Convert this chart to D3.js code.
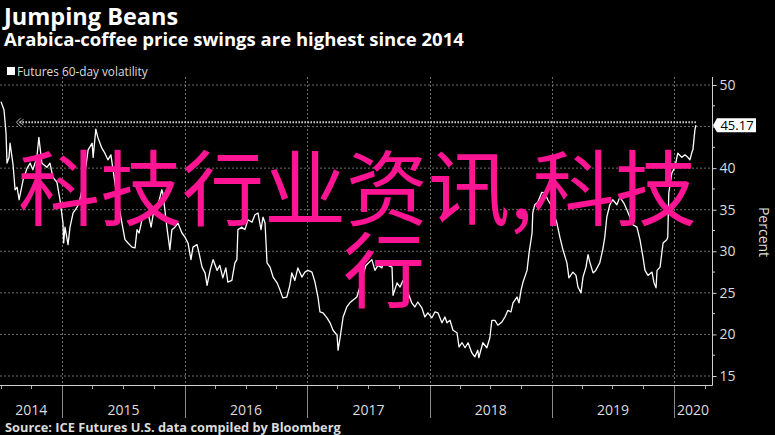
<!DOCTYPE html>
<html><head><meta charset="utf-8">
<script src="https://cdn.jsdelivr.net/npm/d3@7"></script>
<style>
html,body{margin:0;padding:0;background:#000;}
svg{display:block;}
</style></head>
<body>
<svg id="chart" width="775" height="435"></svg>
<script>
const titleText = "Jumping Beans";
const subtitleText = "Arabica-coffee price swings are highest since 2014";
const legendText = "Futures 60-day volatility";
const sourceText = "Source: ICE Futures U.S. data compiled by Bloomberg";
const axisTitle = "Percent";
const watermarkLines = ["科技行业资讯,科技", "行"];

const yearLabels = ["2014","2015","2016","2017","2018","2019","2020"];
const yTicks = [15,20,25,30,35,40,45,50];
const xDomain = ["2014-06-29","2020-04-23"];
const lastValue = 45.17;
const refStart = "2014-08-26";

const dates = [
"2014-07-02","2014-07-11","2014-07-17","2014-07-20","2014-07-26","2014-07-29","2014-08-07","2014-08-10","2014-08-13","2014-08-19",
"2014-08-25","2014-08-31","2014-09-06","2014-09-18","2014-09-27","2014-10-05","2014-10-17","2014-10-23","2014-11-01","2014-11-16",
"2014-11-25","2014-12-04","2014-12-16","2014-12-25","2015-01-03","2015-01-05","2015-01-09","2015-01-18","2015-01-24","2015-02-02",
"2015-02-14","2015-02-20","2015-03-07","2015-03-19","2015-03-31","2015-04-03","2015-04-11","2015-04-17","2015-04-29","2015-05-08",
"2015-05-17","2015-05-26","2015-06-10","2015-06-28","2015-07-07","2015-07-16","2015-07-28","2015-08-06","2015-08-12","2015-08-18",
"2015-08-27","2015-09-05","2015-09-14","2015-09-23","2015-09-29","2015-10-10","2015-10-25","2015-10-28","2015-11-03","2015-11-09",
"2015-11-18","2015-11-24","2015-12-03","2015-12-12","2015-12-24","2016-01-02","2016-01-11","2016-01-20","2016-01-26","2016-02-07",
"2016-02-13","2016-02-22","2016-03-02","2016-03-08","2016-03-17","2016-03-26","2016-04-07","2016-04-15","2016-04-24","2016-05-03",
"2016-05-09","2016-05-21","2016-05-30","2016-06-05","2016-06-08","2016-06-20","2016-06-29","2016-07-08","2016-07-20","2016-07-29",
"2016-08-07","2016-08-16","2016-08-22","2016-08-28","2016-09-03","2016-09-12","2016-09-21","2016-10-03","2016-10-12","2016-10-20",
"2016-11-01","2016-11-10","2016-11-16","2016-11-25","2016-12-04","2016-12-16","2016-12-25","2017-01-03","2017-01-15","2017-01-24",
"2017-02-02","2017-02-08","2017-02-17","2017-03-01","2017-03-10","2017-03-19","2017-03-31","2017-04-03","2017-04-09","2017-04-18",
"2017-04-29","2017-05-08","2017-05-17","2017-05-29","2017-06-07","2017-06-25","2017-07-13","2017-07-22","2017-07-31","2017-08-12",
"2017-08-15","2017-08-30","2017-09-11","2017-09-14","2017-09-26","2017-10-05","2017-10-14","2017-10-26","2017-11-09","2017-11-18",
"2017-11-27","2017-12-09","2017-12-18","2017-12-27","2018-01-08","2018-01-17","2018-01-26","2018-02-07","2018-02-16","2018-02-22",
"2018-03-03","2018-03-12","2018-03-24","2018-03-30","2018-04-08","2018-04-17","2018-04-26","2018-05-07","2018-05-16","2018-05-25",
"2018-05-28","2018-06-09","2018-06-21","2018-06-30","2018-07-06","2018-07-15","2018-07-24","2018-08-05","2018-08-14","2018-08-23",
"2018-09-01","2018-09-07","2018-09-19","2018-09-25","2018-10-01","2018-10-07","2018-10-19","2018-10-25","2018-11-03","2018-11-05",
"2018-11-11","2018-11-20","2018-12-02","2018-12-11","2018-12-20","2018-12-29","2019-01-16","2019-01-25","2019-02-03","2019-02-15",
"2019-02-21","2019-03-05","2019-03-14","2019-03-20","2019-03-29","2019-04-04","2019-04-13","2019-04-19","2019-04-25","2019-05-04",
"2019-05-12","2019-05-24","2019-06-02","2019-06-08","2019-06-14","2019-06-23","2019-07-02","2019-07-14","2019-07-23","2019-08-04",
"2019-08-13","2019-08-22","2019-08-31","2019-09-12","2019-09-21","2019-09-30","2019-10-06","2019-10-15","2019-10-27","2019-11-02",
"2019-11-08","2019-11-11","2019-11-20","2019-11-29","2019-12-10","2019-12-13","2019-12-16","2019-12-25","2020-01-03","2020-01-12",
"2020-01-24","2020-02-02","2020-02-11","2020-02-17","2020-02-23","2020-02-26","2020-03-03","2020-03-06"
];
const values = [
48.0,47.0,44.2,40.6,41.3,43.0,40.4,38.9,37.4,37.7,
36.2,37.4,38.6,40.0,40.6,39.8,41.3,43.7,40.6,40.1,
40.6,38.9,38.3,36.2,33.4,31.0,32.9,30.8,32.9,34.6,
35.3,35.8,38.6,42.2,43.0,41.3,44.7,43.7,42.4,41.8,
41.0,41.6,37.4,33.4,31.4,31.0,30.5,30.4,32.6,32.2,
33.8,34.1,34.6,32.9,34.4,35.0,37.4,37.0,35.0,32.9,
30.2,32.6,32.9,33.4,32.2,31.7,31.0,29.0,30.5,30.8,
29.8,28.1,27.4,25.9,27.7,29.0,27.7,28.3,26.8,28.0,
26.3,26.5,28.6,29.0,32.6,32.9,32.6,33.8,33.5,34.4,
34.6,32.6,34.1,33.4,28.6,28.1,26.9,26.2,25.3,24.4,
24.5,25.9,27.4,26.5,28.0,26.9,27.5,27.7,27.5,26.3,
24.5,22.7,22.6,22.0,21.4,20.5,19.9,18.1,19.6,22.1,
23.3,23.8,24.1,24.5,25.7,28.3,29.0,27.7,28.3,28.0,
28.6,28.3,28.1,24.7,26.2,25.7,26.5,25.3,23.8,23.3,
23.9,23.2,22.1,22.6,22.0,22.7,22.6,21.4,22.1,21.4,
21.7,20.5,20.2,18.5,19.0,18.4,19.0,17.8,17.3,18.1,
17.2,19.0,18.4,19.6,21.7,21.7,21.1,21.5,22.1,22.9,
22.7,23.8,24.5,23.8,25.3,26.3,27.7,29.8,32.2,34.6,
35.6,35.9,37.1,37.0,36.2,35.6,33.4,31.7,30.2,28.6,
26.8,27.5,27.1,25.7,25.0,26.9,28.1,29.6,28.6,27.4,
27.7,28.6,30.2,31.7,34.1,35.6,36.2,35.6,36.5,35.8,
35.0,34.1,33.2,32.9,31.4,29.3,27.7,27.1,27.5,26.2,
25.6,27.7,28.1,31.0,31.4,31.7,37.0,39.4,40.1,41.8,
41.3,41.6,41.3,41.0,41.9,42.2,44.6,45.17
];

const parse = d3.timeParse("%Y-%m-%d");
const data = dates.map((d,i)=>({date:parse(d), value:values[i]}));

const svg = d3.select("#chart");
svg.append("rect").attr("width",775).attr("height",435).attr("fill","#000");

const plotRight = 712, plotTop = 77, plotBottom = 385;
const x = d3.scaleTime().domain(xDomain.map(parse)).range([0, plotRight]);
const y = d3.scaleLinear().domain([15,50]).range([376,85]);

const sans = "'Open Sans', 'DejaVu Sans', sans-serif";

// horizontal gridlines
svg.append("g").selectAll("line").data(yTicks).join("line")
  .attr("x1",0).attr("x2",plotRight)
  .attr("y1",d=>y(d)).attr("y2",d=>y(d))
  .attr("stroke","#6e6e6e").attr("stroke-width",1).attr("stroke-dasharray","2,2");

// vertical year gridlines
const yearStarts = d3.timeYear.range(x.domain()[0], x.domain()[1]).filter(d=>d>x.domain()[0]);
const yearG = svg.append("g");
yearG.selectAll("line.grid").data(yearStarts).join("line").attr("class","grid")
  .attr("x1",d=>Math.round(x(d))+0.5).attr("x2",d=>Math.round(x(d))+0.5)
  .attr("y1",plotTop).attr("y2",plotBottom)
  .attr("stroke","#6e6e6e").attr("stroke-dasharray","2,2");
yearG.selectAll("line.sep").data(yearStarts).join("line").attr("class","sep")
  .attr("x1",d=>Math.round(x(d))+0.5).attr("x2",d=>Math.round(x(d))+0.5)
  .attr("y1",plotBottom).attr("y2",418)
  .attr("stroke","#8a8a8a");

// quarter ticks
const quarters = d3.timeMonth.every(3).range(x.domain()[0], x.domain()[1]).filter(d=>d.getMonth()!==0);
svg.append("g").selectAll("line").data(quarters).join("line")
  .attr("x1",d=>Math.round(x(d))+0.5).attr("x2",d=>Math.round(x(d))+0.5)
  .attr("y1",plotBottom).attr("y2",plotBottom+4)
  .attr("stroke","#aaa");

// axis lines
svg.append("line").attr("x1",0).attr("x2",plotRight+0.5).attr("y1",plotBottom+0.5).attr("y2",plotBottom+0.5).attr("stroke","#cfcfcf");
svg.append("line").attr("x1",plotRight+0.5).attr("x2",plotRight+0.5).attr("y1",plotTop).attr("y2",plotBottom+0.5).attr("stroke","#cfcfcf");

// right axis (45 label hidden behind the last-value tag)
const yAxis = d3.axisRight(y).tickValues(yTicks).tickSize(4).tickPadding(3)
  .tickFormat(d => d === 45 ? "" : d);
const ga = svg.append("g").attr("transform",`translate(${plotRight+0.5},0)`).call(yAxis);
ga.select(".domain").remove();
ga.selectAll(".tick line").attr("stroke","#cfcfcf");
ga.selectAll(".tick text").attr("fill","#dcdcdc").attr("font-size",14).attr("font-family",sans);
ga.selectAll(".tick text").filter(function(){return this.textContent==="";}).remove();
const minorTicks = d3.range(17.5,50,5);
svg.append("g").selectAll("line").data(minorTicks).join("line")
  .attr("x1",plotRight).attr("x2",plotRight+3)
  .attr("y1",d=>y(d)).attr("y2",d=>y(d)).attr("stroke","#cfcfcf");

// year labels
svg.append("g").selectAll("text").data(yearLabels).join("text")
  .attr("x",d=>{
    const s = d3.max([parse(d+"-01-01"), x.domain()[0]]);
    const e = d3.min([parse((+d+1)+"-01-01"), x.domain()[1]]);
    return (x(s)+x(e))/2;
  })
  .attr("y",415).attr("text-anchor","middle")
  .attr("fill","#dcdcdc").attr("font-size",14).attr("font-family",sans)
  .text(d=>d);

// axis title
svg.append("text").attr("transform","translate(759,232) rotate(90)")
  .attr("text-anchor","middle").attr("fill","#dcdcdc").attr("font-size",14).attr("font-family",sans)
  .text(axisTitle);

// reference dotted line
const refY = y(lastValue) - 3;
svg.append("line").attr("x1",x(parse(refStart))).attr("x2",x(data[data.length-1].date))
  .attr("y1",refY).attr("y2",refY)
  .attr("stroke","#d8d8d8").attr("stroke-width",2).attr("stroke-dasharray","1.5,1.5");
const ax = x(parse(refStart)) - 3;
svg.append("path").attr("d",`M${ax+4},${refY-4} L${ax},${refY} L${ax+4},${refY+4} M${ax+7},${refY-3} L${ax+4},${refY} L${ax+7},${refY+3}`)
  .attr("fill","none").attr("stroke","#bbb").attr("stroke-width",1);

// data line
svg.append("path").datum(data)
  .attr("d", d3.line().x(d=>x(d.date)).y(d=>y(d.value)))
  .attr("fill","none").attr("stroke","#ffffff").attr("stroke-width",1.3).attr("stroke-linejoin","round");

// last value label
const ly = y(lastValue);
svg.append("path").attr("d",`M${plotRight+1},${ly} L${plotRight+5},${ly-7} L${plotRight+44},${ly-7} L${plotRight+44},${ly+7} L${plotRight+5},${ly+7} Z`)
  .attr("fill","#fff");
svg.append("text").attr("x",plotRight+25).attr("y",ly+5).attr("text-anchor","middle")
  .attr("fill","#000").attr("font-size",13).attr("font-family",sans).text(lastValue.toFixed(2));

// titles
svg.append("text").attr("x",4).attr("y",25).attr("fill","#fff").attr("font-weight","bold")
  .attr("font-size",23.5).attr("font-family",sans).text(titleText);
svg.append("text").attr("x",4).attr("y",46).attr("fill","#fff").attr("font-weight","bold")
  .attr("font-size",18.5).attr("font-family",sans).text(subtitleText);
svg.append("rect").attr("x",7).attr("y",67).attr("width",8).attr("height",8).attr("fill","#fff");
svg.append("text").attr("x",17).attr("y",76).attr("fill","#dcdcdc")
  .attr("font-size",11.8).attr("font-family",sans).text(legendText);
svg.append("text").attr("x",5).attr("y",432).attr("fill","#dcdcdc").attr("font-weight","bold")
  .attr("font-size",12.8).attr("font-family",sans).text(sourceText);

// watermark
const wm = svg.append("g").attr("font-family","'Noto Sans CJK SC', sans-serif").attr("font-size",82).attr("fill","#ff1493");
wm.append("text").attr("x",18).attr("y",219).text(watermarkLines[0]);
wm.append("text").attr("x",343).attr("y",301).text(watermarkLines[1]);
</script>
</body></html>
